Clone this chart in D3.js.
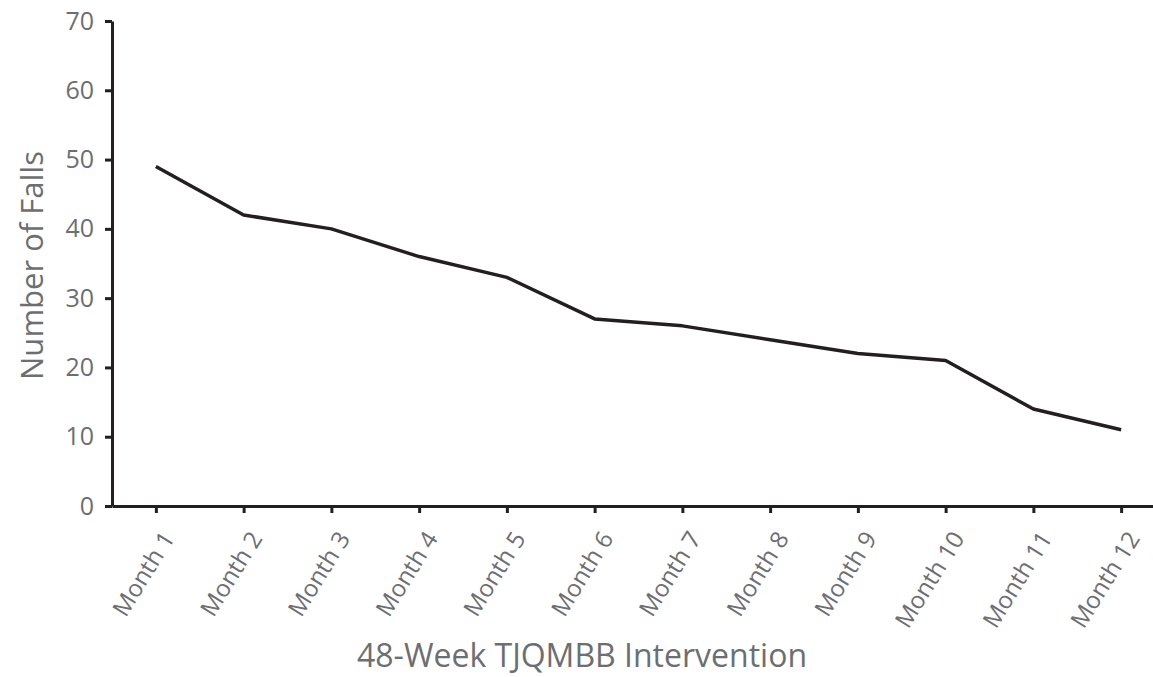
<!DOCTYPE html>
<html>
<head>
<meta charset="utf-8">
<script src="https://cdn.jsdelivr.net/npm/d3@7"></script>
<style>
  body { margin: 0; background: #fff; }
  text { font-family: "Open Sans", sans-serif; fill: #6d6e71; }
</style>
</head>
<body>
<svg id="chart" width="1153" height="677"></svg>
<script>
// chart data
var months = ["Month 1", "Month 2", "Month 3", "Month 4", "Month 5", "Month 6",
              "Month 7", "Month 8", "Month 9", "Month 10", "Month 11", "Month 12"];
var falls = [49, 42, 40, 36, 33, 27, 26, 24, 22, 21, 14, 11];
var yTicks = [0, 10, 20, 30, 40, 50, 60, 70];

var data = months.map(function(m, i){
  return {x: m, y: falls[i]};
});

var chart = d3.select("#chart");

var plotLeft = 112, plotRight = 1165, plotTop = 21, plotBottom = 506;

// scales
var x = d3.scalePoint().domain(months).range([plotLeft, plotRight]).padding(0.5);
var y = d3.scaleLinear().domain([0, 70]).range([plotBottom, plotTop]);

// y axis
var yAxis = chart.append("g")
  .attr("transform", "translate(" + plotLeft + ",0)")
  .call(d3.axisLeft(y).tickValues(yTicks).tickSize(7).tickPadding(11).tickSizeOuter(0));

// x axis
var xAxis = chart.append("g")
  .attr("transform", "translate(0," + plotBottom + ")")
  .call(d3.axisBottom(x).tickSize(7).tickSizeOuter(0));

chart.selectAll(".domain, .tick line")
  .attr("stroke", "#231f20")
  .attr("stroke-width", 3);

yAxis.selectAll(".tick text")
  .style("font-size", "25px");

xAxis.selectAll(".tick text")
  .style("font-size", "24px")
  .attr("text-anchor", "end")
  .attr("y", 0)
  .attr("dy", "0.35em")
  .attr("transform", "translate(12,28) rotate(-58)");

// line
var line = d3.line()
  .x(function(d){ return x(d.x); })
  .y(function(d){ return y(d.y); });

chart.append("path")
  .datum(data)
  .attr("d", line)
  .attr("fill", "none")
  .attr("stroke", "#231f20")
  .attr("stroke-width", 3.5)
  .attr("stroke-linejoin", "round");

// axis titles
chart.append("text")
  .attr("transform", "translate(43," + ((plotTop + plotBottom) / 2 + 2) + ") rotate(-90)")
  .attr("text-anchor", "middle")
  .style("font-size", "31px")
  .text("Number of Falls");

chart.append("text")
  .attr("x", 582)
  .attr("y", 667)
  .attr("text-anchor", "middle")
  .style("font-size", "32px")
  .text("48-Week TJQMBB Intervention");
</script>
</body>
</html>
